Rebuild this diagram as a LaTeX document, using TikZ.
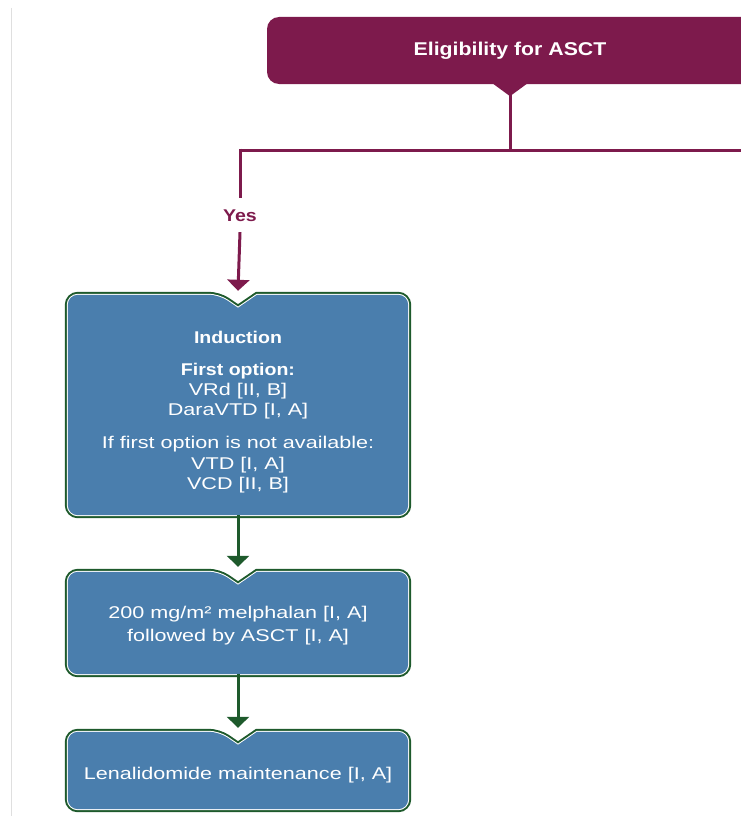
\documentclass[tikz,border=0pt]{standalone}
\usepackage{fontspec}
\setmainfont{Liberation Sans}[FakeStretch=1.15]
\newfontfamily\regfont{Liberation Sans}[FakeStretch=1.27]
\usetikzlibrary{positioning,calc,arrows.meta,backgrounds}

\definecolor{ascpurple}{HTML}{7D1A4C}
\definecolor{boxblue}{HTML}{4A7EAD}
\definecolor{boxgreen}{HTML}{1E5A2C}

% box with a notch at the top
\newcommand{\notchbox}[1]{%
  \path[notched] ($(#1.north)+(19,0)$) [rounded corners=10pt] -- (#1.north east) -- (#1.south east)
    -- (#1.south west) -- (#1.north west) -- ($(#1.north)+(-19,0)$) [sharp corners]
    -- ($(#1.north)+(0,-13)$) -- cycle;}
\newcommand{\boxhead}[1]{{\rmfamily\bfseries #1}}

\begin{document}
\begin{tikzpicture}[x=1pt, y=1pt,
% node style
titlebox/.style={fill=ascpurple, rounded corners=12pt, minimum width=486pt, minimum height=67pt, text=white, font=\bfseries\fontsize{18.5}{22}\selectfont},
boxtext/.style={text=white, align=center, minimum width=340pt, inner sep=0pt, font=\regfont\fontsize{17}{21}\selectfont},
yeslabel/.style={text=ascpurple, font=\bfseries\fontsize{17}{20}\selectfont, inner xsep=2pt, inner ysep=0pt, text height=12pt, text depth=0pt, minimum height=34pt},
notched/.style={fill=boxblue, preaction={draw=boxgreen, line width=6pt}, preaction={draw=white, line width=2pt}},
purp/.style={ascpurple, line width=3pt},
grn/.style={boxgreen, line width=3pt},
tip/.style={-{Triangle[width=22pt,length=11pt]}}
]

\useasboundingbox (0,0) rectangle (741,-816);
\clip (0,0) rectangle (741,-816);
\draw[gray!25, line width=1pt] (11,-8) -- (11,-816);

% nodes
\node[titlebox] (elig) at (510,-50.5) {Eligibility for ASCT};
\fill[ascpurple] ($(elig.south)+(-17,0.5)$) -- ($(elig.south)+(0,-12)$) -- ($(elig.south)+(17,0.5)$) -- cycle;

\coordinate (split) at (510,-150);
\coordinate (yes_in) at (240,-150);
\coordinate (no_out) at (745,-150);

\node[yeslabel] (yes) at (240,-215) {Yes};

\node[boxtext, minimum height=220pt] (induct) at (238,-405) {\rule{0pt}{27pt}\boxhead{Induction}\\[11pt]
  \boxhead{First option:}\\[-1pt] VRd [II, B]\\[-1pt] DaraVTD [I, A]\\[12pt]
  If first option is not available:\\ VTD [I, A]\\[-1pt] VCD [II, B]};
\node[boxtext, minimum height=102pt] (melph) at (238,-623) {\rule{0pt}{17pt}200 mg/m² melphalan [I, A]\\[2pt] followed by ASCT [I, A]};
\node[boxtext, minimum height=77pt] (lenal) at (238,-770.5) {\rule{0pt}{21pt}Lenalidomide maintenance [I, A]};

\begin{scope}[on background layer]
\notchbox{induct}
\notchbox{melph}
\notchbox{lenal}
\end{scope}

% draw lines between nodes
\draw[-][purp] (elig.south) -- (split);
\draw[-][purp] (yes_in) -- (no_out);
\draw[-][purp] ([yshift=1.5pt]yes_in) -- (yes.north);
\draw[tip][purp] (yes.south) -- ([yshift=4pt]induct.north);
\draw[tip][grn] (induct.south) -- ([yshift=5pt]melph.north);
\draw[tip][grn] (melph.south) -- ([yshift=4pt]lenal.north);

\end{tikzpicture}
\end{document}
